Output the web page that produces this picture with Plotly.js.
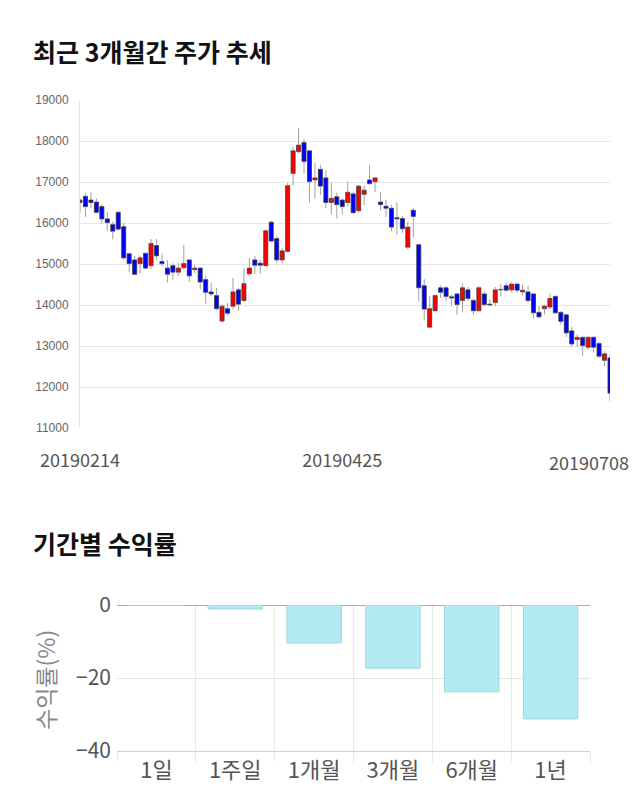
<!DOCTYPE html>
<html>
<head>
<meta charset="utf-8">
<script src="https://cdn.plot.ly/plotly-3.0.1.min.js"></script>
<style>html,body{margin:0;padding:0;background:#fff;}#chart{width:640px;height:810px;}</style>
</head>
<body>
<div id="chart"></div>
<script>
const dates = [
 '20190214','20190215','20190218','20190219','20190220','20190221','20190222','20190225','20190226','20190227','20190228',
 '20190304','20190305','20190306','20190307','20190308','20190311','20190312','20190313','20190314','20190318','20190319','20190320','20190321','20190322','20190325','20190326','20190327','20190328','20190329',
 '20190401','20190402','20190403','20190404','20190405','20190408','20190409','20190410','20190411','20190412','20190415','20190416','20190417','20190418','20190419','20190422','20190423','20190424','20190425','20190426','20190429','20190430',
 '20190502','20190503','20190507','20190508','20190509','20190510','20190513','20190514','20190515','20190516','20190517','20190520','20190521','20190522','20190523','20190524','20190527','20190528','20190529','20190530','20190531',
 '20190603','20190604','20190605','20190607','20190610','20190611','20190612','20190613','20190614','20190617','20190618','20190619','20190620','20190621','20190624','20190625','20190626','20190627','20190628',
 '20190701','20190702','20190703','20190704','20190705','20190708'
];
const openP = [16500,16650,16560,16510,16400,16100,15960,16260,15910,15250,15100,15010,15260,14960,15450,15060,14900,14960,14800,14910,
 15100,14860,14900,14620,14320,14230,13610,13910,13970,14370,14110,14760,15100,15020,14960,16020,15620,15100,15310,17210,
 17740,17960,17760,17050,17310,17100,16500,16640,16560,16500,16710,16300,16700,17050,17010,16510,16410,16360,16130,16110,
 15410,16310,15470,14470,13460,13860,14420,14420,14200,14270,14110,14370,14110,13860,14270,14020,14060,14380,14470,14370,
 14510,14320,14320,14270,13820,13910,13950,14210,13820,13760,13370,13160,13210,12970,13210,13060,12650,12710];
const highP = [16600,16720,16750,16600,16460,16260,16030,16300,16000,15280,15200,15200,15280,15610,15610,15260,15100,15020,15020,15460,
 15120,14980,14930,14720,14540,14420,14010,14050,14660,14420,14900,15150,15200,15100,15840,16060,15680,15390,16980,17850,
 18310,18040,17760,17460,17420,17290,16970,16740,16600,17010,16760,16930,16910,17400,17130,16760,16560,16440,16500,16170,
 16030,16370,15470,14630,14210,14250,14470,14460,14250,14290,14520,14430,14170,14460,14330,14130,14440,14510,14540,14560,
 14540,14500,14470,14290,13970,14010,14280,14230,13850,13790,13460,13280,13250,13250,13250,13100,12870,12810];
const lowP = [16250,16150,16360,16260,15990,15810,15600,15810,15100,14810,14750,14770,14870,14880,15100,14950,14550,14620,14710,14860,
 14560,14780,14390,14020,14210,13870,13560,13750,13890,13860,14070,14700,14760,14760,14960,15530,15020,15010,15270,16910,
 17700,17210,16500,16600,16680,16360,16210,16110,16210,16410,16240,16250,16440,16930,16750,16320,16150,15800,15710,15760,
 15360,15650,14090,13640,13460,13850,14170,14090,13980,13760,13820,14090,13760,13850,13970,13970,13980,14210,14330,14310,
 14290,14230,14050,13670,13680,13760,13900,13780,13520,13220,12990,12970,12760,12910,12850,12710,12500,11650];
const closeP = [16560,16400,16500,16260,16100,16010,15800,15850,15150,15010,14750,15150,14900,15500,15200,15010,14750,14800,14900,15010,
 14710,14900,14560,14310,14270,13910,13970,13800,14320,14020,14520,14900,14970,14970,15810,15560,15100,15320,16910,17760,
 17900,17500,17010,17100,16900,16500,16600,16450,16400,16750,16250,16900,16800,16960,17100,16450,16360,15900,16100,15860,
 15900,16160,14420,13900,13910,14230,14310,14210,14170,14010,14420,14160,13860,14420,14010,14000,14370,14370,14360,14510,
 14360,14360,14110,13810,13710,13970,14160,13810,13600,13320,13050,13210,13010,13210,12970,12750,12810,11850];
const priceTicks = [11000,12000,13000,14000,15000,16000,17000,18000,19000];
const dateTickLabels = ['20190214','20190425','20190708'];

const periods = ['1일','1주일','1개월','3개월','6개월','1년'];
const returns = [0,-1.1,-10.4,-17.3,-23.8,-31.2];
const returnTicks = [0,-20,-40];

// derived from the OHLC arrays
const bodyHigh = openP.map((o,i)=>Math.max(o,closeP[i]));
const bodyLow = openP.map((o,i)=>Math.min(o,closeP[i]));
const bodyColor = openP.map((o,i)=> closeP[i] >= o ? '#ff0000' : '#0000ff');
const wx = [], wy = [];
dates.forEach((d,i)=>{
  wx.push(d,d,d); wy.push(bodyHigh[i], highP[i], null);
  wx.push(d,d,d); wy.push(lowP[i], bodyLow[i], null);
});

const wicks = {
  type:'scatter', mode:'lines', x:wx, y:wy, xaxis:'x', yaxis:'y', hoverinfo:'skip',
  line:{color:'#a0a0a0', width:1}, connectgaps:false
};
const bodies = {
  type:'bar', x:dates, y:bodyHigh.map((h,i)=>h-bodyLow[i]), base:bodyLow, width:0.74,
  xaxis:'x', yaxis:'y', hoverinfo:'skip',
  marker:{color:bodyColor, line:{color:'#3a3a3a', width:0.8}}
};
const bars = {
  type:'bar', x:periods, y:returns, xaxis:'x2', yaxis:'y2', hoverinfo:'skip',
  marker:{color:'#b2ebf2', line:{color:'#9fd6df', width:1}}
};

const H = 810, W = 640;
const layout = {
  width:W, height:H, margin:{l:0,r:0,t:0,b:0},
  paper_bgcolor:'#fff', plot_bgcolor:'#fff', showlegend:false,
  font:{family:'Noto Sans CJK KR, Noto Sans, sans-serif', color:'#555'},
  bargap:0.31, barmode:'overlay',
  xaxis:{domain:[80/W,610/W], type:'category', range:[0,dates.length-1],
    showgrid:false, zeroline:false, showline:false,
    tickvals:[dates[0], dates[48]], ticktext:[dateTickLabels[0], dateTickLabels[1]],
    ticks:'', ticklabelstandoff:20, tickfont:{size:18,color:'#555'}, fixedrange:true},
  yaxis:{domain:[1-428/H,1-100/H], range:[11000,19000], tickvals:priceTicks, tickformat:'d',
    showgrid:true, gridcolor:'#e6e6e6', zeroline:false, showline:true, linecolor:'#e6e6e6',
    ticks:'', ticklabelstandoff:8, tickfont:{size:12,color:'#666',family:'Liberation Sans, Arial, sans-serif'}, fixedrange:true},
  xaxis2:{domain:[117/W,590/W], type:'category', tickson:'boundaries', showgrid:true, gridcolor:'#e8e8e8',
    ticks:'outside', ticklen:10, tickcolor:'#e8e8e8', showline:true, linecolor:'#d0d0d0', zeroline:false,
    tickfont:{size:22,color:'#555'}, ticklabelstandoff:0, anchor:'y2', fixedrange:true},
  yaxis2:{domain:[1-751/H,1-605/H], range:[-40,0], tickvals:returnTicks, anchor:'x2',
    showgrid:true, gridcolor:'#e3e3e3', zeroline:true, zerolinecolor:'#aaaaaa', zerolinewidth:1,
    ticks:'', ticklabelstandoff:5, tickfont:{size:21,color:'#555'}, fixedrange:true},
  annotations:[
    {text:'최근 3개월간 주가 추세', xref:'paper', yref:'paper', x:31/W, y:1-51/H, xanchor:'left', yanchor:'middle',
     showarrow:false, font:{size:25, color:'#111', weight:'bold', family:'Noto Sans CJK KR'}},
    {text:'기간별 수익률', xref:'paper', yref:'paper', x:31/W, y:1-543/H, xanchor:'left', yanchor:'middle',
     showarrow:false, font:{size:25, color:'#111', weight:'bold', family:'Noto Sans CJK KR'}},
    {text:dateTickLabels[2], xref:'paper', yref:'paper', x:631/W, y:1-462/H, xanchor:'right', yanchor:'middle',
     showarrow:false, font:{size:18, color:'#555'}},
    {text:'수익률(%)', xref:'paper', yref:'paper', x:45/W, y:1-680/H, xanchor:'center', yanchor:'middle', textangle:-90,
     showarrow:false, font:{size:23, color:'#888'}}
  ]
};
Plotly.newPlot('chart',[bodies,wicks,bars],layout,{staticPlot:true,displayModeBar:false});
</script>
</body>
</html>
